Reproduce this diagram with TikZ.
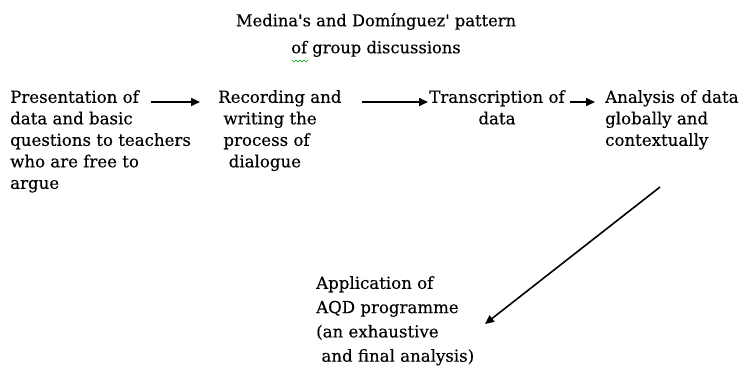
\documentclass[tikz,border=0pt]{standalone}
\usepackage{fontspec}
\setmainfont{DejaVu Serif}[FakeBold=0.3]
\usetikzlibrary{arrows.meta}
\begin{document}
\begin{tikzpicture}[x=1pt,y=-1pt,
  txt/.style={inner sep=0pt, anchor=north west, align=left, font=\fontsize{16.6}{21.5}\selectfont},
  arr/.style={-{Triangle[length=9pt,width=8pt]}, line width=1.6pt}]
\useasboundingbox (0,0) rectangle (745,367);
\node[txt, anchor=north, align=center, font=\fontsize{16.3}{27}\selectfont] (title) at (376,13) {Medina\textquotesingle s and Domínguez\textquotesingle\ pattern\\of group discussions};
\draw[green!60!black, line width=0.6pt] (292,60) -- ++(2,2) -- ++(2,-2) -- ++(2,2) -- ++(2,-2) -- ++(2,2) -- ++(2,-2) -- ++(2,2) -- ++(2,-2);
\node[txt] (p) at (10,90) {Presentation of\\data and basic\\questions to teachers\\who are free to\\argue};
\node[txt] (r) at (218,90) {Recording and\\\ writing the\\\ process of\\\ \ dialogue};
\node[txt, align=center, anchor=north] (t) at (497,90) {Transcription of\\data};
\node[txt] (a) at (605,90) {Analysis of data\\globally and\\contextually};
\node[txt, font=\fontsize{16.6}{24.3}\selectfont] (q) at (316,276) {Application of\\AQD programme\\(an exhaustive\\\ and final analysis)};
\coordinate (p1) at (151,102); \coordinate (p2) at (200,102);
\coordinate (r1) at (362,102); \coordinate (r2) at (428,102);
\coordinate (t1) at (570,102); \coordinate (t2) at (595,102);
\coordinate (a1) at (660,187); \coordinate (q1) at (485,324);
\draw[arr] (p1) -- (p2);
\draw[arr] (r1) -- (r2);
\draw[arr] (t1) -- (t2);
\draw[arr] (a1) -- (q1);
\end{tikzpicture}
\end{document}
